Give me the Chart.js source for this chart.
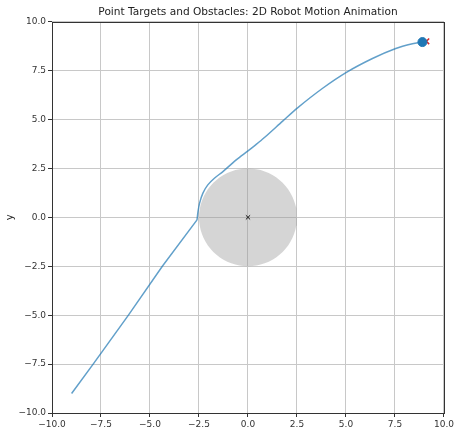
<!DOCTYPE html>
<html>
<head>
<meta charset="utf-8">
<script src="https://cdn.jsdelivr.net/npm/chart.js@4/dist/chart.umd.min.js"></script>
<style>
  html, body { margin: 0; padding: 0; background: #fff; }
  #wrap { width: 456px; height: 428px; }
</style>
</head>
<body>
<div id="wrap"><canvas id="motionChart"></canvas></div>
<script>
// robot path: straight approach up to the obstacle edge...
var approachX = [-9.0, -7.9, -6.1, -4.37, -2.6];
var approachY = [-9.0, -7.5, -5.0, -2.5, -0.13];
// ...then sliding round the edge and curving on to the target
var detourX = [-2.6, -2.55, -2.47, -2.3, -2.05, -1.7, -1.28, -0.6, 0.0, 0.42, 0.84, 1.77, 2.53, 3.81, 5.0, 6.35, 7.54, 8.39, 8.9];
var detourY = [-0.13, 0.3, 0.73, 1.24, 1.66, 2.01, 2.34, 2.94, 3.4, 3.73, 4.08, 4.92, 5.6, 6.6, 7.4, 8.12, 8.63, 8.87, 8.96];

// current robot position and the point target
var robotPos = [8.9, 8.96];
var targetPos = [9.1, 9.0];

// obstacle: centre and radius
var obstacleCenter = [0, 0];
var obstacleRadius = 2.5;

var xTicks = [-10, -7.5, -5, -2.5, 0, 2.5, 5, 7.5, 10];
var yTicks = [-10, -7.5, -5, -2.5, 0, 2.5, 5, 7.5, 10];

var font = 'DejaVu Sans';
var pathColor = 'rgba(31,119,180,0.7)';

function toPoints(xs, ys) {
    return xs.map(function(x, i) { return { x: x, y: ys[i] }; });
}

// outline of the obstacle as a closed polygon
function circlePoints(c, r) {
    var pts = [];
    for (var i = 0; i <= 72; i++) {
        var a = i / 72 * Math.PI * 2;
        pts.push({ x: c[0] + r * Math.cos(a), y: c[1] + r * Math.sin(a) });
    }
    return pts;
}

function fmt(v) {
    var s = Math.abs(v).toFixed(1);
    return v < 0 ? '\u2212' + s : s;
}

// box around the plot area, like the four axes spines
var frame = {
    id: 'frame',
    afterDraw: function(chart) {
        var a = chart.chartArea, ctx = chart.ctx;
        ctx.save();
        ctx.strokeStyle = '#333';
        ctx.lineWidth = 1;
        ctx.strokeRect(Math.round(a.left) + 0.5, Math.round(a.top) + 0.5,
            Math.round(a.right - a.left), Math.round(a.bottom - a.top));
        ctx.restore();
    }
};

function axis(ticks, title) {
    return {
        type: 'linear',
        min: ticks[0],
        max: ticks[ticks.length - 1],
        afterBuildTicks: function(scale) {
            scale.ticks = ticks.map(function(v) { return { value: v }; });
        },
        grid: {
            color: '#c8c8c8',
            lineWidth: 1,
            drawTicks: true,
            tickLength: 4,
            tickColor: '#333',
            tickWidth: 1
        },
        border: { display: false },
        ticks: {
            color: '#333',
            font: { family: font, size: 9 },
            padding: 2,
            maxRotation: 0,
            autoSkip: false,
            callback: function(v) { return fmt(v); }
        },
        title: {
            display: !!title,
            text: title || '',
            color: '#222',
            font: { family: font, size: 10 },
            padding: { top: 4, bottom: 0 }
        }
    };
}

var xAxis = axis(xTicks);
xAxis.afterFit = function(scale) { scale.height = 15; };
var yAxis = axis(yTicks, 'y');
yAxis.afterFit = function(scale) { scale.width = 52; };

new Chart(document.getElementById('motionChart'), {
    type: 'scatter',
    data: {
        datasets: [
            {
                label: 'robot',
                data: [{ x: robotPos[0], y: robotPos[1] }],
                backgroundColor: '#1f77b4',
                borderColor: '#1f77b4',
                pointRadius: 4.5,
                order: 0
            },
            {
                label: 'target',
                data: [{ x: targetPos[0], y: targetPos[1] }],
                pointStyle: 'crossRot',
                borderColor: '#d62728',
                borderWidth: 1.5,
                pointRadius: 4,
                order: 1
            },
            {
                label: 'approach',
                data: toPoints(approachX, approachY),
                showLine: true,
                borderColor: pathColor,
                borderWidth: 1.5,
                pointRadius: 0,
                tension: 0,
                order: 2
            },
            {
                label: 'detour',
                data: toPoints(detourX, detourY),
                showLine: true,
                borderColor: pathColor,
                borderWidth: 1.5,
                pointRadius: 0,
                tension: 0.3,
                order: 2
            },
            {
                label: 'centre',
                data: [{ x: obstacleCenter[0], y: obstacleCenter[1] }],
                pointStyle: 'crossRot',
                borderColor: '#111',
                borderWidth: 1,
                pointRadius: 3,
                order: 3
            },
            {
                label: 'obstacle',
                data: circlePoints(obstacleCenter, obstacleRadius),
                showLine: true,
                fill: 'shape',
                backgroundColor: 'rgba(150,150,150,0.4)',
                borderWidth: 0,
                borderColor: 'rgba(0,0,0,0)',
                pointRadius: 0,
                order: 4
            }
        ]
    },
    options: {
        responsive: true,
        maintainAspectRatio: false,
        animation: false,
        layout: { padding: { left: 0, right: 11, top: 0, bottom: 0 } },
        plugins: {
            legend: { display: false },
            tooltip: { enabled: false },
            title: {
                display: true,
                fullSize: false,
                text: 'Point Targets and Obstacles: 2D Robot Motion Animation',
                color: '#222',
                font: { family: font, size: 10.6, weight: 'normal' },
                padding: { top: 6, bottom: 3 }
            }
        },
        scales: { x: xAxis, y: yAxis }
    },
    plugins: [frame]
});
</script>
</body>
</html>
